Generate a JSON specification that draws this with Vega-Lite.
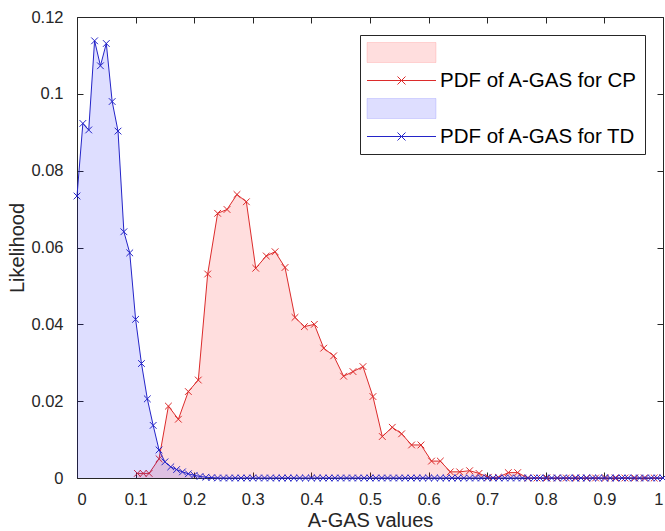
{
  "$schema": "https://vega.github.io/schema/vega-lite/v6.json",
  "width": 586,
  "height": 461,
  "autosize": "none",
  "padding": {"left": 77, "top": 17, "right": 2, "bottom": 53},
  "background": "white",
  "config": {
    "view": {"stroke": "#262626", "strokeWidth": 1},
    "font": "Liberation Sans",
    "axis": {
      "domain": false,
      "grid": false,
      "tickColor": "#262626",
      "tickSize": -6,
      "labelColor": "#262626",
      "labelFont": "Liberation Sans",
      "labelFontSize": 16.5,
      "labelLimit": 0,
      "titleColor": "#262626",
      "titleFont": "Liberation Sans",
      "titleFontSize": 20,
      "titleFontWeight": "normal"
    }
  },
  "datasets": {
    "td": [
      {"x": 0.00, "y": 0.0734}, {"x": 0.01, "y": 0.0923}, {"x": 0.02, "y": 0.0906}, {"x": 0.03, "y": 0.1138},
      {"x": 0.04, "y": 0.1073}, {"x": 0.05, "y": 0.1131}, {"x": 0.06, "y": 0.0980}, {"x": 0.07, "y": 0.0903},
      {"x": 0.08, "y": 0.0641}, {"x": 0.09, "y": 0.0586}, {"x": 0.10, "y": 0.0413}, {"x": 0.11, "y": 0.0298},
      {"x": 0.12, "y": 0.0206}, {"x": 0.13, "y": 0.0137}, {"x": 0.14, "y": 0.0073}, {"x": 0.15, "y": 0.0042},
      {"x": 0.16, "y": 0.0029}, {"x": 0.17, "y": 0.0022}, {"x": 0.18, "y": 0.0016}, {"x": 0.19, "y": 0.0011},
      {"x": 0.20, "y": 0.0007}, {"x": 0.21, "y": 0.0004}, {"x": 0.22, "y": 0.0002}, {"x": 0.23, "y": 0.0001},
      {"x": 0.24, "y": 0}, {"x": 0.25, "y": 0}, {"x": 0.26, "y": 0}, {"x": 0.27, "y": 0}, {"x": 0.28, "y": 0},
      {"x": 0.29, "y": 0}, {"x": 0.30, "y": 0}, {"x": 0.31, "y": 0}, {"x": 0.32, "y": 0}, {"x": 0.33, "y": 0},
      {"x": 0.34, "y": 0}, {"x": 0.35, "y": 0}, {"x": 0.36, "y": 0}, {"x": 0.37, "y": 0}, {"x": 0.38, "y": 0},
      {"x": 0.39, "y": 0}, {"x": 0.40, "y": 0}, {"x": 0.41, "y": 0}, {"x": 0.42, "y": 0}, {"x": 0.43, "y": 0},
      {"x": 0.44, "y": 0}, {"x": 0.45, "y": 0}, {"x": 0.46, "y": 0}, {"x": 0.47, "y": 0}, {"x": 0.48, "y": 0},
      {"x": 0.49, "y": 0}, {"x": 0.50, "y": 0}, {"x": 0.51, "y": 0}, {"x": 0.52, "y": 0}, {"x": 0.53, "y": 0},
      {"x": 0.54, "y": 0}, {"x": 0.55, "y": 0}, {"x": 0.56, "y": 0}, {"x": 0.57, "y": 0}, {"x": 0.58, "y": 0},
      {"x": 0.59, "y": 0}, {"x": 0.60, "y": 0}, {"x": 0.61, "y": 0}, {"x": 0.62, "y": 0}, {"x": 0.63, "y": 0},
      {"x": 0.64, "y": 0}, {"x": 0.65, "y": 0}, {"x": 0.66, "y": 0}, {"x": 0.67, "y": 0}, {"x": 0.68, "y": 0},
      {"x": 0.69, "y": 0}, {"x": 0.70, "y": 0}, {"x": 0.71, "y": 0}, {"x": 0.72, "y": 0}, {"x": 0.73, "y": 0},
      {"x": 0.74, "y": 0}, {"x": 0.75, "y": 0}, {"x": 0.76, "y": 0}, {"x": 0.77, "y": 0}, {"x": 0.78, "y": 0},
      {"x": 0.79, "y": 0}, {"x": 0.80, "y": 0}, {"x": 0.81, "y": 0}, {"x": 0.82, "y": 0}, {"x": 0.83, "y": 0},
      {"x": 0.84, "y": 0}, {"x": 0.85, "y": 0}, {"x": 0.86, "y": 0}, {"x": 0.87, "y": 0}, {"x": 0.88, "y": 0},
      {"x": 0.89, "y": 0}, {"x": 0.90, "y": 0}, {"x": 0.91, "y": 0}, {"x": 0.92, "y": 0}, {"x": 0.93, "y": 0},
      {"x": 0.94, "y": 0}, {"x": 0.95, "y": 0}, {"x": 0.96, "y": 0}, {"x": 0.97, "y": 0}, {"x": 0.98, "y": 0},
      {"x": 0.99, "y": 0}, {"x": 1.00, "y": 0}
    ],
    "cp": [
      {"x": 0.103, "y": 0.0012}, {"x": 0.113, "y": 0.0012}, {"x": 0.123, "y": 0.0012}, {"x": 0.140, "y": 0.0050},
      {"x": 0.156, "y": 0.0187}, {"x": 0.173, "y": 0.0153}, {"x": 0.190, "y": 0.0225}, {"x": 0.207, "y": 0.0255},
      {"x": 0.223, "y": 0.0531}, {"x": 0.240, "y": 0.0689}, {"x": 0.256, "y": 0.0699}, {"x": 0.273, "y": 0.0738},
      {"x": 0.289, "y": 0.0719}, {"x": 0.305, "y": 0.0546}, {"x": 0.323, "y": 0.0578}, {"x": 0.338, "y": 0.0589},
      {"x": 0.355, "y": 0.0548}, {"x": 0.372, "y": 0.0418}, {"x": 0.388, "y": 0.0394}, {"x": 0.405, "y": 0.0400},
      {"x": 0.421, "y": 0.0338}, {"x": 0.438, "y": 0.0318}, {"x": 0.455, "y": 0.0265}, {"x": 0.471, "y": 0.0277},
      {"x": 0.488, "y": 0.0290}, {"x": 0.505, "y": 0.0212}, {"x": 0.521, "y": 0.0108}, {"x": 0.538, "y": 0.0132},
      {"x": 0.554, "y": 0.0115}, {"x": 0.571, "y": 0.0086}, {"x": 0.587, "y": 0.0086}, {"x": 0.605, "y": 0.0044},
      {"x": 0.620, "y": 0.0044}, {"x": 0.637, "y": 0.0016}, {"x": 0.653, "y": 0.0016}, {"x": 0.670, "y": 0.0019},
      {"x": 0.686, "y": 0.0012}, {"x": 0.702, "y": 0.0002}, {"x": 0.719, "y": 0.0002}, {"x": 0.736, "y": 0.0014},
      {"x": 0.752, "y": 0.0014}, {"x": 0.769, "y": 0}, {"x": 0.785, "y": 0}, {"x": 0.802, "y": 0},
      {"x": 0.819, "y": 0}, {"x": 0.835, "y": 0}, {"x": 0.852, "y": 0}, {"x": 0.869, "y": 0},
      {"x": 0.885, "y": 0}, {"x": 0.902, "y": 0}, {"x": 0.918, "y": 0}, {"x": 0.935, "y": 0},
      {"x": 0.952, "y": 0}, {"x": 0.968, "y": 0}, {"x": 0.985, "y": 0}, {"x": 1.000, "y": 0}
    ]
  },
  "encoding": {
    "x": {"field": "x", "type": "quantitative", "scale": {"domain": [0, 1], "nice": false, "zero": false}},
    "y": {"field": "y", "type": "quantitative", "scale": {"domain": [0, 0.12], "nice": false}}
  },
  "resolve": {"axis": {"x": "independent", "y": "independent"}},
  "layer": [
    {
      "data": {"name": "cp"},
      "mark": {"type": "area", "interpolate": "linear"},
      "encoding": {
        "x": {"field": "x", "type": "quantitative", "axis": {"orient": "bottom", "values": [0, 0.1, 0.2, 0.3, 0.4, 0.5, 0.6, 0.7, 0.8, 0.9, 1], "labelExpr": "datum.value === 0 ? '0' : datum.value === 1 ? '1' : '0.' + round(datum.value * 10)", "title": "A-GAS values", "labelPadding": 19, "titlePadding": 3}},
        "y": {"field": "y", "type": "quantitative", "axis": {"orient": "left", "values": [0, 0.02, 0.04, 0.06, 0.08, 0.1, 0.12], "labelExpr": "datum.value === 0 ? '0' : datum.value > 0.11 ? '0.12' : datum.value > 0.09 ? '0.1' : '0.0' + round(datum.value * 100)", "title": "Likelihood", "labelPadding": 20, "titlePadding": 3}},
        "color": {
          "datum": "fillCP",
          "scale": {
            "domain": ["fillCP", "PDF of A-GAS for CP", "fillTD", "PDF of A-GAS for TD"],
            "range": ["rgba(255,0,0,0.13)", "#dc2b2b", "rgba(0,0,255,0.13)", "#2424c8"]
          },
          "legend": {
            "orient": "top-right",
            "offset": 18,
            "title": null,
            "padding": 7,
            "rowPadding": 5,
            "strokeColor": "#262626",
            "fillColor": "white",
            "labelFont": "Liberation Sans",
            "labelFontSize": 20.5,
            "labelLimit": 0,
            "labelColor": "#000000",
            "symbolSize": 400,
            "symbolOffset": 24,
            "labelOffset": 28,
            "labelExpr": "indexof(datum.value, 'fill') === 0 ? '' : datum.value",
            "encoding": {
              "symbols": {
                "shape": {"value": {"expr": "indexof(datum.value, 'fill') === 0 ? 'M-3.45,-1H3.45V1H-3.45Z' : 'M-3.45,0H3.45M-0.4,-0.4L0.4,0.4M-0.4,0.4L0.4,-0.4'"}},
                "size": {"value": 400},
                "stroke": {"value": {"expr": "datum.value === 'PDF of A-GAS for CP' ? '#dc2b2b' : datum.value === 'PDF of A-GAS for TD' ? '#2424c8' : 'transparent'"}},
                "strokeWidth": {"value": 1},
                "opacity": {"value": 1},
                "fillOpacity": {"value": 1},
                "strokeOpacity": {"value": 1}
              }
            }
          }
        }
      }
    },
    {
      "data": {"name": "cp"},
      "mark": {"type": "line", "strokeWidth": 1},
      "encoding": {
        "x": {"field": "x", "type": "quantitative", "axis": {"orient": "top", "values": [0, 0.1, 0.2, 0.3, 0.4, 0.5, 0.6, 0.7, 0.8, 0.9, 1], "labels": false, "title": null}},
        "y": {"field": "y", "type": "quantitative", "axis": {"orient": "right", "values": [0, 0.02, 0.04, 0.06, 0.08, 0.1, 0.12], "labels": false, "title": null}},
        "color": {"datum": "PDF of A-GAS for CP"}
      }
    },
    {
      "data": {"name": "cp"},
      "mark": {"type": "point", "shape": "M-1,-1L1,1M-1,1L1,-1", "size": 45, "filled": false, "strokeWidth": 1, "opacity": 1},
      "encoding": {
        "x": {"field": "x", "type": "quantitative", "axis": null},
        "y": {"field": "y", "type": "quantitative", "axis": null},
        "color": {"datum": "PDF of A-GAS for CP"}
      }
    },
    {
      "data": {"name": "td"},
      "mark": {"type": "area", "interpolate": "linear"},
      "encoding": {
        "x": {"field": "x", "type": "quantitative", "axis": null},
        "y": {"field": "y", "type": "quantitative", "axis": null},
        "color": {"datum": "fillTD"}
      }
    },
    {
      "data": {"name": "td"},
      "mark": {"type": "line", "strokeWidth": 1},
      "encoding": {
        "x": {"field": "x", "type": "quantitative", "axis": null},
        "y": {"field": "y", "type": "quantitative", "axis": null},
        "color": {"datum": "PDF of A-GAS for TD"}
      }
    },
    {
      "data": {"name": "td"},
      "mark": {"type": "point", "shape": "M-1,-1L1,1M-1,1L1,-1", "size": 45, "filled": false, "strokeWidth": 1, "opacity": 1},
      "encoding": {
        "x": {"field": "x", "type": "quantitative", "axis": null},
        "y": {"field": "y", "type": "quantitative", "axis": null},
        "color": {"datum": "PDF of A-GAS for TD"}
      }
    }
  ]
}
